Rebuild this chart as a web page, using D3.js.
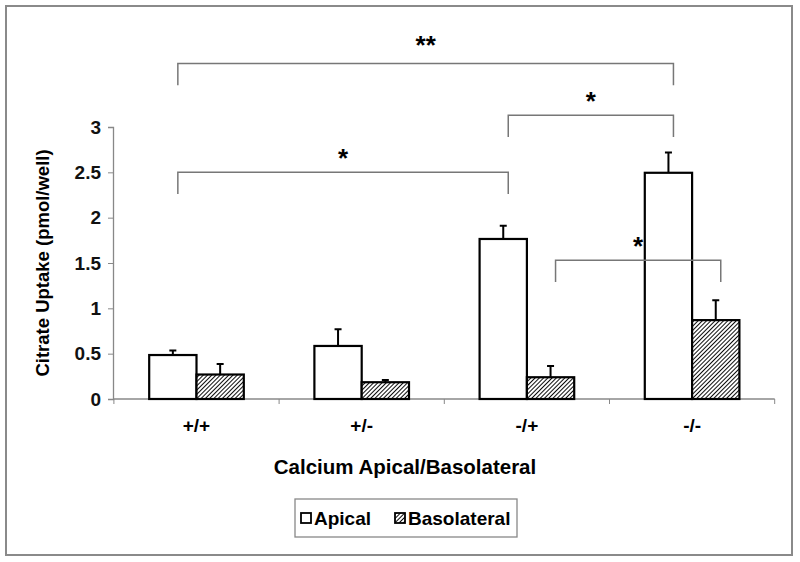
<meta charset="utf-8">
<script src="https://d3js.org/d3.v7.min.js"></script>
<style>
body { margin:0; background:white; overflow:hidden; }
text { font-family: Arial, "Liberation Sans", sans-serif; font-weight:bold; }
</style>
<body>
<div id="chart"></div>
<script>
// data
var categories = ["+/+", "+/-", "-/+", "-/-"];
var seriesNames = ["Apical", "Basolateral"];
var apical = [0.485, 0.585, 1.765, 2.495];
var apicalErr = [0.05, 0.185, 0.145, 0.225];
var basolateral = [0.27, 0.185, 0.24, 0.87];
var basolateralErr = [0.115, 0.025, 0.125, 0.22];
var yTicks = [0, 0.5, 1, 1.5, 2, 2.5, 3];
// significance brackets: [from cat, from series, to cat, to series, level, label]
var brackets = [
  ["+/+", "Apical", "-/-", "Apical", 3.70, "**"],
  ["-/+", "Apical", "-/-", "Apical", 3.13, "*"],
  ["+/+", "Apical", "-/+", "Apical", 2.50, "*"],
  ["-/+", "Basolateral", "-/-", "Basolateral", 1.53, "*"]
];

var width = 800, height = 562;
var svg = d3.select("#chart").append("svg")
  .attr("width", width).attr("height", height);

// hatch pattern
var pat = svg.append("defs").append("pattern")
  .attr("id", "hatch").attr("patternUnits", "userSpaceOnUse")
  .attr("width", 3).attr("height", 3)
  .attr("patternTransform", "rotate(45)");
pat.append("rect").attr("width", 3).attr("height", 3).attr("fill", "white");
pat.append("line").attr("x1", 0).attr("y1", 0).attr("x2", 0).attr("y2", 3)
  .attr("stroke", "#000").attr("stroke-width", 1.9);

// outer frame
svg.append("rect").attr("x", 6).attr("y", 6).attr("width", 786).attr("height", 549)
  .attr("fill", "none").attr("stroke", "#8a8a8a").attr("stroke-width", 2);

var p = 0.4273;
var x0 = d3.scaleBand().domain(categories).range([113.9, 774.7])
  .paddingInner(p).paddingOuter(p / 2);
var x1 = d3.scaleBand().domain(seriesNames).range([0, x0.bandwidth()]);
var y = d3.scaleLinear().domain([0, 3]).range([399, 127]);

var rows = categories.map(function(c, i) {
  return [
    {cat: c, s: "Apical", v: apical[i], e: apicalErr[i]},
    {cat: c, s: "Basolateral", v: basolateral[i], e: basolateralErr[i]}
  ];
});

// y axis
var yAxis = svg.append("g").attr("transform", "translate(113,0)")
  .call(d3.axisLeft(y).tickValues(yTicks).tickSize(5).tickPadding(7)
    .tickFormat(function(d) { return d; }));
yAxis.select(".domain").attr("stroke", "#888").attr("stroke-width", 1.3);
yAxis.selectAll(".tick line").attr("stroke", "#888");
yAxis.selectAll(".tick text").style("font-size", "19px").attr("fill", "#111")
  .attr("font-family", null);

// x axis line + boundary ticks
var step = x0.step();
svg.append("line").attr("x1", 113).attr("x2", 113.9 + step * 4)
  .attr("y1", y(0)).attr("y2", y(0)).attr("stroke", "#888").attr("stroke-width", 1.3);
svg.selectAll(".xtick").data(d3.range(5)).enter().append("line")
  .attr("x1", function(d) { return 113.9 + d * step; })
  .attr("x2", function(d) { return 113.9 + d * step; })
  .attr("y1", y(0)).attr("y2", y(0) + 5)
  .attr("stroke", "#888");
svg.selectAll(".xlab").data(categories).enter().append("text")
  .attr("x", function(d) { return x0(d) + x0.bandwidth() / 2; })
  .attr("y", 432).attr("text-anchor", "middle")
  .style("font-size", "19px").text(function(d) { return d; });

// titles
svg.append("text").attr("x", 405).attr("y", 474).attr("text-anchor", "middle")
  .style("font-size", "20.5px").text("Calcium Apical/Basolateral");
svg.append("text").attr("transform", "translate(49,263) rotate(-90)")
  .attr("text-anchor", "middle").style("font-size", "18.5px")
  .text("Citrate Uptake (pmol/well)");

// bars
var groups = svg.selectAll(".grp").data(rows).enter().append("g")
  .attr("transform", function(d) { return "translate(" + x0(d[0].cat) + ",0)"; });
groups.selectAll(".err").data(function(d) { return d; }).enter().append("path")
  .attr("d", function(d) {
    var cx = x1(d.s) + x1.bandwidth() / 2, top = y(d.v + d.e);
    return "M" + cx + "," + y(d.v) + "V" + top + "M" + (cx - 3.5) + "," + top + "H" + (cx + 3.5);
  })
  .attr("stroke", "#000").attr("stroke-width", 2).attr("fill", "none");
groups.selectAll(".bar").data(function(d) { return d; }).enter().append("rect")
  .attr("x", function(d) { return x1(d.s); })
  .attr("y", function(d) { return y(d.v); })
  .attr("width", x1.bandwidth())
  .attr("height", function(d) { return y(0) - y(d.v); })
  .attr("fill", function(d) { return d.s == "Apical" ? "white" : "url(#hatch)"; })
  .attr("stroke", "#000").attr("stroke-width", 2.2);

// significance brackets
var drop = 0.24;
function bx(cat, s) { return x0(cat) + x1(s) + x1.bandwidth() / 2 + 5; }
brackets.forEach(function(b) {
  var xa = bx(b[0], b[1]), xb = bx(b[2], b[3]);
  svg.append("path")
    .attr("d", "M" + xa + "," + y(b[4] - drop) + "V" + y(b[4]) + "H" + xb + "V" + y(b[4] - drop))
    .attr("fill", "none").attr("stroke", "#777").attr("stroke-width", 1.5);
  svg.append("text").attr("x", (xa + xb) / 2).attr("y", y(b[4]) - (b[5] == "**" ? 10 : 5))
    .attr("text-anchor", "middle").style("font-size", "26px").text(b[5]);
});

// legend
var lg = svg.append("g").attr("transform", "translate(295,499)");
lg.append("rect").attr("width", 222).attr("height", 38)
  .attr("fill", "white").attr("stroke", "#888").attr("stroke-width", 1.3);
seriesNames.forEach(function(s, i) {
  var ox = i == 0 ? 6 : 100;
  lg.append("rect").attr("x", ox).attr("y", 14).attr("width", 10).attr("height", 10)
    .attr("fill", i == 0 ? "white" : "url(#hatch)").attr("stroke", "#000").attr("stroke-width", 1.8);
  lg.append("text").attr("x", ox + 13).attr("y", 26).style("font-size", "19px").text(s);
});
</script>
</body>
